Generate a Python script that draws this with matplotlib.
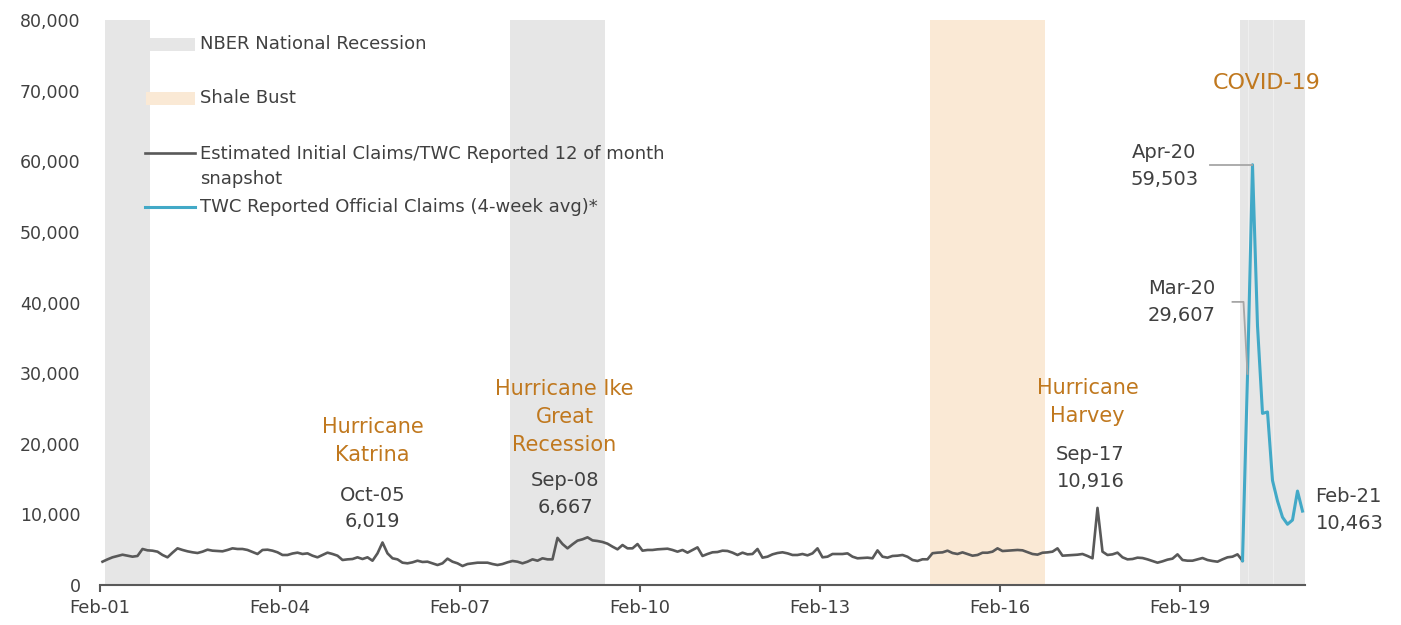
import numpy as np
import pandas as pd
import matplotlib
matplotlib.use("Agg")
import matplotlib.pyplot as plt
from matplotlib.patches import Rectangle
from matplotlib.lines import Line2D
from matplotlib.ticker import FuncFormatter

plt.rcParams['font.family'] = ['DejaVu Sans']

# ---------------- data ----------------
start_month = "2001-02"
est_claims = [
    3300, 3630, 3920, 4110, 4290, 4150, 4010, 4110, 5100, 4910,
    4860, 4720, 4250, 3920, 4580, 5190, 4960, 4770, 4630, 4530,
    4720, 5000, 4860, 4820, 4770, 4960, 5190, 5100, 5100, 4960,
    4670, 4390, 4960, 5000, 4860, 4630, 4250, 4250, 4460, 4580,
    4390, 4480, 4150, 3920, 4250, 4580, 4390, 4150, 3540, 3630,
    3680, 3920, 3680, 3920, 3440, 4480, 6019, 4480, 3780, 3630,
    3160, 3070, 3210, 3440, 3260, 3300, 3070, 2830, 3070, 3730,
    3300, 3070, 2690, 2970, 3070, 3160, 3160, 3160, 2970, 2830,
    2970, 3210, 3400, 3300, 3070, 3300, 3630, 3440, 3780, 3630,
    3630, 6667, 5800, 5190, 5760, 6280, 6470, 6750, 6320, 6230,
    6090, 5850, 5430, 5050, 5660, 5190, 5190, 5800, 4860, 4960,
    4960, 5050, 5100, 5140, 4960, 4720, 4960, 4580, 4960, 5330,
    4110, 4390, 4630, 4670, 4860, 4820, 4580, 4250, 4580, 4340,
    4390, 5100, 3870, 4010, 4340, 4530, 4630, 4480, 4250, 4250,
    4390, 4200, 4480, 5190, 3920, 4010, 4390, 4390, 4390, 4480,
    4010, 3780, 3820, 3870, 3780, 4900, 4010, 3870, 4110, 4150,
    4250, 4000, 3540, 3400, 3640, 3640, 4500, 4580, 4620, 4860,
    4530, 4390, 4620, 4390, 4150, 4250, 4570, 4570, 4720, 5190,
    4810, 4860, 4910, 4960, 4910, 4650, 4390, 4300, 4570, 4620,
    4720, 5190, 4150, 4200, 4250, 4290, 4390, 4110, 3780, 10916,
    4720, 4250, 4340, 4580, 3920, 3630, 3680, 3870, 3820, 3630,
    3400, 3160, 3350, 3590, 3730, 4340, 3540, 3440, 3440, 3630,
    3820, 3540, 3400, 3300, 3630, 3920, 4010, 4340, 3440,
]
twc_start = "2020-02"
twc_claims = [3440, 29607, 59503, 36700, 24300, 24500, 14800, 11900,
              9600, 8600, 9200, 13300, 10463]

nber_periods = [("2001-03", "2001-11"), ("2007-12", "2009-06"), ("2020-02", "2021-02")]
shale_periods = [("2014-12", "2016-10")]
band_seams = ["2020-03", "2020-08"]
tick_months = ["2001-02", "2004-02", "2007-02", "2010-02", "2013-02",
               "2016-02", "2019-02"]
tick_labels = ["Feb-01", "Feb-04", "Feb-07", "Feb-10", "Feb-13", "Feb-16", "Feb-19"]


def midx(s):
    p = pd.Period(s, freq="M")
    return (p - pd.Period(start_month, freq="M")).n


# ---------------- colors ----------------
GRAY_BAND = "#e6e6e6"
SHALE = "#fae9d5"
LINE_GRAY = "#595959"
BLUE = "#42a9c7"
ORANGE = "#c0781e"
TXT = "#404040"

W, H = 1401, 625
fig = plt.figure(figsize=(W / 100, H / 100), dpi=100)
ax = fig.add_axes([100 / W, 40 / H, 1205 / W, 565 / H])

x_est = midx(start_month) + np.arange(len(est_claims))
x_twc = midx(twc_start) + np.arange(len(twc_claims))
last_idx = x_twc[-1]

for a, b in nber_periods:
    ax.axvspan(midx(a) - 0.5, midx(b) + 0.5, color=GRAY_BAND, lw=0, zorder=0)
for a, b in shale_periods:
    ax.axvspan(midx(a) - 0.5, midx(b) + 0.5, color=SHALE, lw=0, zorder=0)
for s in band_seams:
    ax.axvline(midx(s), color="#efefef", lw=0.8, zorder=1)

ax.plot(x_est, est_claims, color=LINE_GRAY, lw=1.9, zorder=3,
        solid_joinstyle="round")
ax.plot(x_twc, twc_claims, color=BLUE, lw=2.2, zorder=4,
        solid_joinstyle="round")

ax.set_xlim(-0.5, last_idx + 0.5)
ax.set_ylim(0, 80000)
ax.set_yticks(np.arange(0, 80001, 10000))
ax.yaxis.set_major_formatter(FuncFormatter(lambda v, p: f"{int(v):,}"))
ax.set_xticks([midx(m) - 0.5 for m in tick_months])
ax.set_xticklabels(tick_labels)

for s in ["top", "right", "left"]:
    ax.spines[s].set_visible(False)
ax.spines["bottom"].set_color(LINE_GRAY)
ax.spines["bottom"].set_linewidth(1.5)
ax.tick_params(axis="y", length=0, pad=14, labelsize=12.5, labelcolor=TXT)
ax.tick_params(axis="x", length=5, width=1.5, color=LINE_GRAY, pad=5,
               labelsize=13, labelcolor=TXT)


def annot(i, v, text, dx, dy, color=TXT, size=14, ha="center"):
    ax.annotate(text, xy=(i, v), xytext=(dx, dy), textcoords="offset pixels",
                ha=ha, va="center", color=color, fontsize=size,
                linespacing=1.5, annotation_clip=False)


def off(i, v, dx, dy):
    p = ax.transData.transform((i, v)) + np.array([dx, dy])
    return ax.transData.inverted().transform(p)


i_oct05 = midx("2005-10")
i_sep08 = midx("2008-09")
i_sep17 = midx("2017-09")
i_mar20 = midx("2020-03")
i_apr20 = midx("2020-04")
i_feb21 = midx("2021-02")
v_oct05 = est_claims[i_oct05]
v_sep08 = est_claims[i_sep08]
v_sep17 = est_claims[i_sep17]
v_mar20 = twc_claims[i_mar20 - x_twc[0]]
v_apr20 = twc_claims[i_apr20 - x_twc[0]]
v_feb21 = twc_claims[i_feb21 - x_twc[0]]

annot(i_oct05, v_oct05, f"Oct-05\n{v_oct05:,}", -10, 34)
annot(i_oct05, v_oct05, "Hurricane\nKatrina", -10, 101, color=ORANGE, size=15)
annot(i_sep08, v_sep08, f"Sep-08\n{v_sep08:,}", 8, 44)
annot(i_sep08, v_sep08, "Hurricane Ike\nGreat\nRecession", 7, 121, color=ORANGE, size=15)
annot(i_sep17, v_sep17, f"Sep-17\n{v_sep17:,}", -7, 40)
annot(i_sep17, v_sep17, "Hurricane\nHarvey", -10, 106, color=ORANGE, size=15)
annot(i_apr20, v_apr20, "COVID-19", 14, 82, color=ORANGE, size=16)
annot(i_apr20, v_apr20, f"Apr-20\n{v_apr20:,}", -88, -1)
annot(i_mar20, v_mar20, f"Mar-20\n{v_mar20:,}", -66, 74)
annot(i_feb21, v_feb21, f"Feb-21\n{v_feb21:,}", 13, 1, ha="left")

CONN = "#a6a6a6"
pts = [off(i_apr20, v_apr20, -42, 0), off(i_apr20, v_apr20, 0, 0)]
ax.plot([p[0] for p in pts], [p[1] for p in pts], color=CONN, lw=1.3, zorder=5,
        clip_on=False)
pts = [off(i_mar20, v_mar20, -15, 74), off(i_mar20, v_mar20, -4, 74),
       off(i_mar20, v_mar20, 0, 2)]
ax.plot([p[0] for p in pts], [p[1] for p in pts], color=CONN, lw=1.3, zorder=5,
        clip_on=False)

# ---------------- legend (figure pixel layout) ----------------
def fx(px):
    return px / W


def fy(py):
    return 1 - py / H


fig.add_artist(Rectangle((fx(150), fy(51)), 45 / W, 13 / H, transform=fig.transFigure,
                         color=GRAY_BAND, lw=0))
fig.add_artist(Rectangle((fx(146), fy(105)), 49 / W, 13 / H, transform=fig.transFigure,
                         color=SHALE, lw=0))
fig.add_artist(Line2D([fx(145), fx(195)], [fy(153), fy(153)], transform=fig.transFigure,
                      color=LINE_GRAY, lw=1.9))
fig.add_artist(Line2D([fx(145), fx(195)], [fy(207), fy(207)], transform=fig.transFigure,
                      color=BLUE, lw=2.2))
leg_kw = dict(fontsize=13, color=TXT, ha="left", va="center", linespacing=1.5)
fig.text(fx(200), fy(44), "NBER National Recession", **leg_kw)
fig.text(fx(200), fy(98), "Shale Bust", **leg_kw)
fig.text(fx(200), fy(166), "Estimated Initial Claims/TWC Reported 12 of month\nsnapshot", **leg_kw)
fig.text(fx(200), fy(207), "TWC Reported Official Claims (4-week avg)*", **leg_kw)

fig.savefig("out.png", dpi=100)
